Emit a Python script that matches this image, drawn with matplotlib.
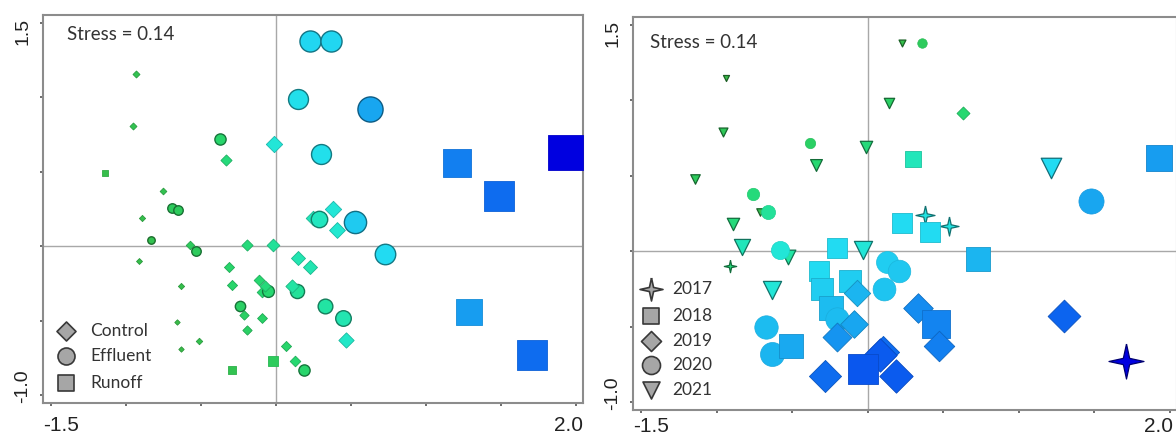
import matplotlib
matplotlib.use("Agg")
import matplotlib.pyplot as plt
import numpy as np
from matplotlib.colors import LinearSegmentedColormap, to_rgb

# ---------------------------------------------------------------------------
# nMDS ordination scores (x, y) and gradient level (drives colour and size)
# ---------------------------------------------------------------------------
# Panel A: treatment
control_x = [-0.93, -0.95, -0.33, -0.01, -0.75, -0.89, -0.57, -0.91, -0.63, -0.66,
             -0.51, -0.63, -0.19, -0.02, -0.31, -0.29, -0.11, -0.07, -0.09, -0.21,
             -0.09, -0.19, 0.07, 0.13, 0.15, 0.23, 0.11, 0.25, 0.38, 0.41, 0.47]
control_y = [1.16, 0.81, 0.58, 0.69, 0.37, 0.19, 0.01, -0.10, -0.27, -0.51,
             -0.64, -0.69, 0.01, 0.01, -0.14, -0.26, -0.23, -0.27, -0.31, -0.46,
             -0.48, -0.56, -0.67, -0.77, -0.08, -0.14, -0.27, 0.19, 0.25, 0.11, -0.63]
control_lvl = [0.06, 0.06, 0.22, 0.42, 0.05, 0.03, 0.12, 0.02, 0.03, 0.0,
               0.04, 0.0, 0.22, 0.28, 0.18, 0.18, 0.20, 0.22, 0.20, 0.15,
               0.17, 0.15, 0.18, 0.20, 0.33, 0.33, 0.30, 0.35, 0.42, 0.40, 0.38]

effluent_x = [0.23, 0.37, 0.15, 0.63, 0.30, -0.37, -0.69, -0.65, -0.83, -0.53,
              -0.24, -0.05, 0.14, 0.29, 0.53, 0.73, 0.33, 0.45, 0.19]
effluent_y = [1.38, 1.38, 0.99, 0.92, 0.62, 0.72, 0.26, 0.24, 0.04, -0.03,
              -0.40, -0.30, -0.30, 0.18, 0.16, -0.05, -0.40, -0.48, -0.83]
effluent_lvl = [0.52, 0.52, 0.48, 0.66, 0.48, 0.18, 0.12, 0.12, 0.05, 0.12,
                0.15, 0.20, 0.28, 0.36, 0.56, 0.50, 0.30, 0.33, 0.18]

runoff_x = [-1.14, -0.29, -0.02, 1.21, 1.49, 1.93, 1.29, 1.71]
runoff_y = [0.49, -0.83, -0.77, 0.56, 0.34, 0.63, -0.44, -0.73]
runoff_lvl = [0.02, 0.06, 0.12, 0.75, 0.80, 1.0, 0.68, 0.80]

# Panel B: sampling year
y2017_x = [0.38, 0.54, -0.91, 1.71]
y2017_y = [0.24, 0.17, -0.10, -0.73]
y2017_lvl = [0.45, 0.45, 0.22, 1.0]

y2018_x = [0.30, 1.93, 0.23, 0.41, 0.73, 0.45, -0.20, -0.32, -0.30, -0.12, -0.24, -0.51, -0.03]
y2018_y = [0.61, 0.62, 0.19, 0.13, -0.05, -0.48, 0.02, -0.13, -0.25, -0.20, -0.38, -0.63, -0.78]
y2018_lvl = [0.35, 0.68, 0.50, 0.50, 0.62, 0.74, 0.50, 0.50, 0.55, 0.55, 0.60, 0.65, 0.85]

y2019_x = [0.63, 0.33, 0.47, 0.10, 0.19, 1.30, -0.07, -0.09, -0.20, -0.28, 0.08]
y2019_y = [0.92, -0.38, -0.63, -0.67, -0.83, -0.43, -0.28, -0.48, -0.57, -0.83, -0.69]
y2019_lvl = [0.20, 0.72, 0.75, 0.80, 0.84, 0.82, 0.62, 0.66, 0.70, 0.80, 0.84]

y2020_x = [0.36, -0.38, -0.76, -0.66, -0.58, 1.48, 0.13, 0.21, 0.11, -0.20, -0.67, -0.63]
y2020_y = [1.38, 0.72, 0.38, 0.26, 0.01, 0.33, -0.07, -0.13, -0.25, -0.45, -0.50, -0.68]
y2020_lvl = [0.12, 0.15, 0.22, 0.28, 0.42, 0.66, 0.55, 0.57, 0.58, 0.60, 0.60, 0.62]

y2021_x = [-0.94, -0.96, 0.23, 0.14, -0.34, -0.01, -1.14, 1.21, -0.89, -0.83, -0.53, -0.63, -0.03, -0.71]
y2021_y = [1.15, 0.79, 1.38, 0.98, 0.57, 0.69, 0.48, 0.55, 0.18, 0.03, -0.04, -0.26, 0.01, 0.26]
y2021_lvl = [0.0, 0.10, 0.03, 0.15, 0.20, 0.22, 0.12, 0.50, 0.22, 0.35, 0.30, 0.42, 0.42, 0.05]

stress_text = "Stress = 0.14"
treatment_labels = ["Control", "Effluent", "Runoff"]
year_labels = ["2017", "2018", "2019", "2020", "2021"]
x_tick_values = [-1.5, -1.0, -0.5, 0.0, 0.5, 1.0, 1.5, 2.0]
y_tick_values = [-1.0, -0.5, 0.0, 0.5, 1.0, 1.5]

# ---------------------------------------------------------------------------
DPI = 100
PT = DPI / 72.0

cmap = LinearSegmentedColormap.from_list("gradient", [
    (0.00, "#38bc48"), (0.10, "#2ec858"), (0.20, "#26d870"), (0.30, "#22e4a4"),
    (0.40, "#22e8d0"), (0.50, "#22dcf2"), (0.58, "#1ec4f0"), (0.66, "#18a6f0"),
    (0.75, "#1280f0"), (0.85, "#0a58ee"), (1.00, "#0000e0")])

STAR = [(0, 1), (0.18, 0.18), (1, 0), (0.18, -0.18), (0, -1), (-0.18, -0.18),
        (-1, 0), (-0.18, 0.18), (0, 1)]

# marker geometry -> factor converting visual width (px) to marker size (pt)
GEOM = {"o": 1.0, "s": 1.0, "D": 1 / 1.414, "v": 1.0, "star": 1.0}


def darken(c, f):
    r, g, b = to_rgb(c)
    return (r * f, g * f, b * f)


def draw_group(ax, xs, ys, lv, marker, scale, edge_f, edge_lw, z):
    for x, y, l in zip(xs, ys, lv):
        width_px = (6 + 29 * l) * scale
        ms = width_px * GEOM[marker] / PT
        col = cmap(l)
        mk = STAR if marker == "star" else marker
        ax.scatter([x], [y], s=ms ** 2, marker=mk, c=[col],
                   edgecolors=[darken(col, edge_f)], linewidths=edge_lw,
                   zorder=z + l)


def style_axes(ax, xlab_y, right_pad):
    ax.set_xlim(-1.553, 2.047)
    ax.set_ylim(-1.054, 1.554)
    ax.axvline(0, color="#a8a8a8", lw=1.0, zorder=1)
    ax.axhline(0, color="#a8a8a8", lw=1.0, zorder=1)
    for sp in ax.spines.values():
        sp.set_color("#8c8c8c")
        sp.set_linewidth(1.5)
    ax.set_xticks(x_tick_values)
    ax.set_yticks(y_tick_values)
    ax.set_xticklabels([])
    ax.set_yticklabels([])
    ax.tick_params(direction="out", length=2.5, width=1.2, color="#555555")
    tick_font = dict(family="Liberation Sans", color="#222222")
    ax.text(0.0, xlab_y, "-1.5", transform=ax.transAxes, ha="left", va="center",
            fontsize=15, **tick_font)
    ax.text(1.0 - right_pad, xlab_y, "2.0", transform=ax.transAxes, ha="right",
            va="center", fontsize=15, **tick_font)
    ax.text(-0.037, 0.992, "1.5", transform=ax.transAxes, ha="center", va="top",
            rotation=90, fontsize=14, **tick_font)
    ax.text(-0.037, 0.0, "-1.0", transform=ax.transAxes, ha="center", va="bottom",
            rotation=90, fontsize=14, **tick_font)


def legend_rows(ax, fig_px, gap_px, axes_px, rows):
    # rows: (marker, width_px, label, y_px); fig_px is marker centre x
    x0, y_bottom, w, h = axes_px
    for mk, wpx, label, ypx in rows:
        fx = (fig_px - x0) / w
        fy = (y_bottom - ypx) / h
        ms = wpx * GEOM[mk] / PT
        ax.scatter([fx], [fy], s=ms ** 2, marker=STAR if mk == "star" else mk,
                   c="#a6a6a6", edgecolors="#383838", linewidths=1.2,
                   transform=ax.transAxes, zorder=20, clip_on=False)
        ax.text(fx + gap_px / w, fy, label, transform=ax.transAxes, ha="left",
                va="center", fontsize=12.5, family="Lato", color="#333333",
                zorder=20)


fig = plt.figure(figsize=(11.76, 4.36), dpi=DPI)
W, H = 1176.0, 436.0

# left panel: pixels left 43, right 583, top 15, bottom 403
axL = fig.add_axes([43 / W, (H - 403) / H, 540 / W, 388 / H])
style_axes(axL, -0.057, 0.0)
draw_group(axL, control_x, control_y, control_lvl, "D", 0.9, 0.8, 0.6, 3)
draw_group(axL, effluent_x, effluent_y, effluent_lvl, "o", 1.0, 0.55, 1.0, 3)
draw_group(axL, runoff_x, runoff_y, runoff_lvl, "s", 1.0, 0.9, 0.6, 3)
axL.text(24 / 540, (403 - 34) / 388, stress_text, transform=axL.transAxes,
         ha="left", va="center", fontsize=13.5, family="Lato", color="#333333")
legend_rows(axL, 66, 24, (43, 403, 540, 388), [
    ("D", 19, treatment_labels[0], 331),
    ("o", 17, treatment_labels[1], 356),
    ("s", 16, treatment_labels[2], 383)])

# right panel: pixels left 633, right 1177, top 17, bottom 410
axR = fig.add_axes([633 / W, (H - 410) / H, 544 / W, 393 / H])
style_axes(axR, -16.0 / 393, 4.0 / 544)
draw_group(axR, y2018_x, y2018_y, y2018_lvl, "s", 1.0, 0.85, 0.6, 3)
draw_group(axR, y2019_x, y2019_y, y2019_lvl, "D", 1.1, 0.8, 0.6, 3)
draw_group(axR, y2020_x, y2020_y, y2020_lvl, "o", 1.0, 0.92, 0.5, 3)
draw_group(axR, y2021_x, y2021_y, y2021_lvl, "v", 1.0, 0.5, 0.9, 3)
draw_group(axR, y2017_x, y2017_y, y2017_lvl, "star", 1.0, 0.5, 0.9, 3)
axR.text(17 / 544, (410 - 43) / 393, stress_text, transform=axR.transAxes,
         ha="left", va="center", fontsize=13.5, family="Lato", color="#333333")
legend_rows(axR, 651, 21, (633, 410, 544, 393), [
    ("star", 23, year_labels[0], 289),
    ("s", 16, year_labels[1], 316),
    ("D", 20, year_labels[2], 341),
    ("o", 18, year_labels[3], 365),
    ("v", 17, year_labels[4], 390)])

fig.savefig("out.png", dpi=DPI, facecolor="white")
